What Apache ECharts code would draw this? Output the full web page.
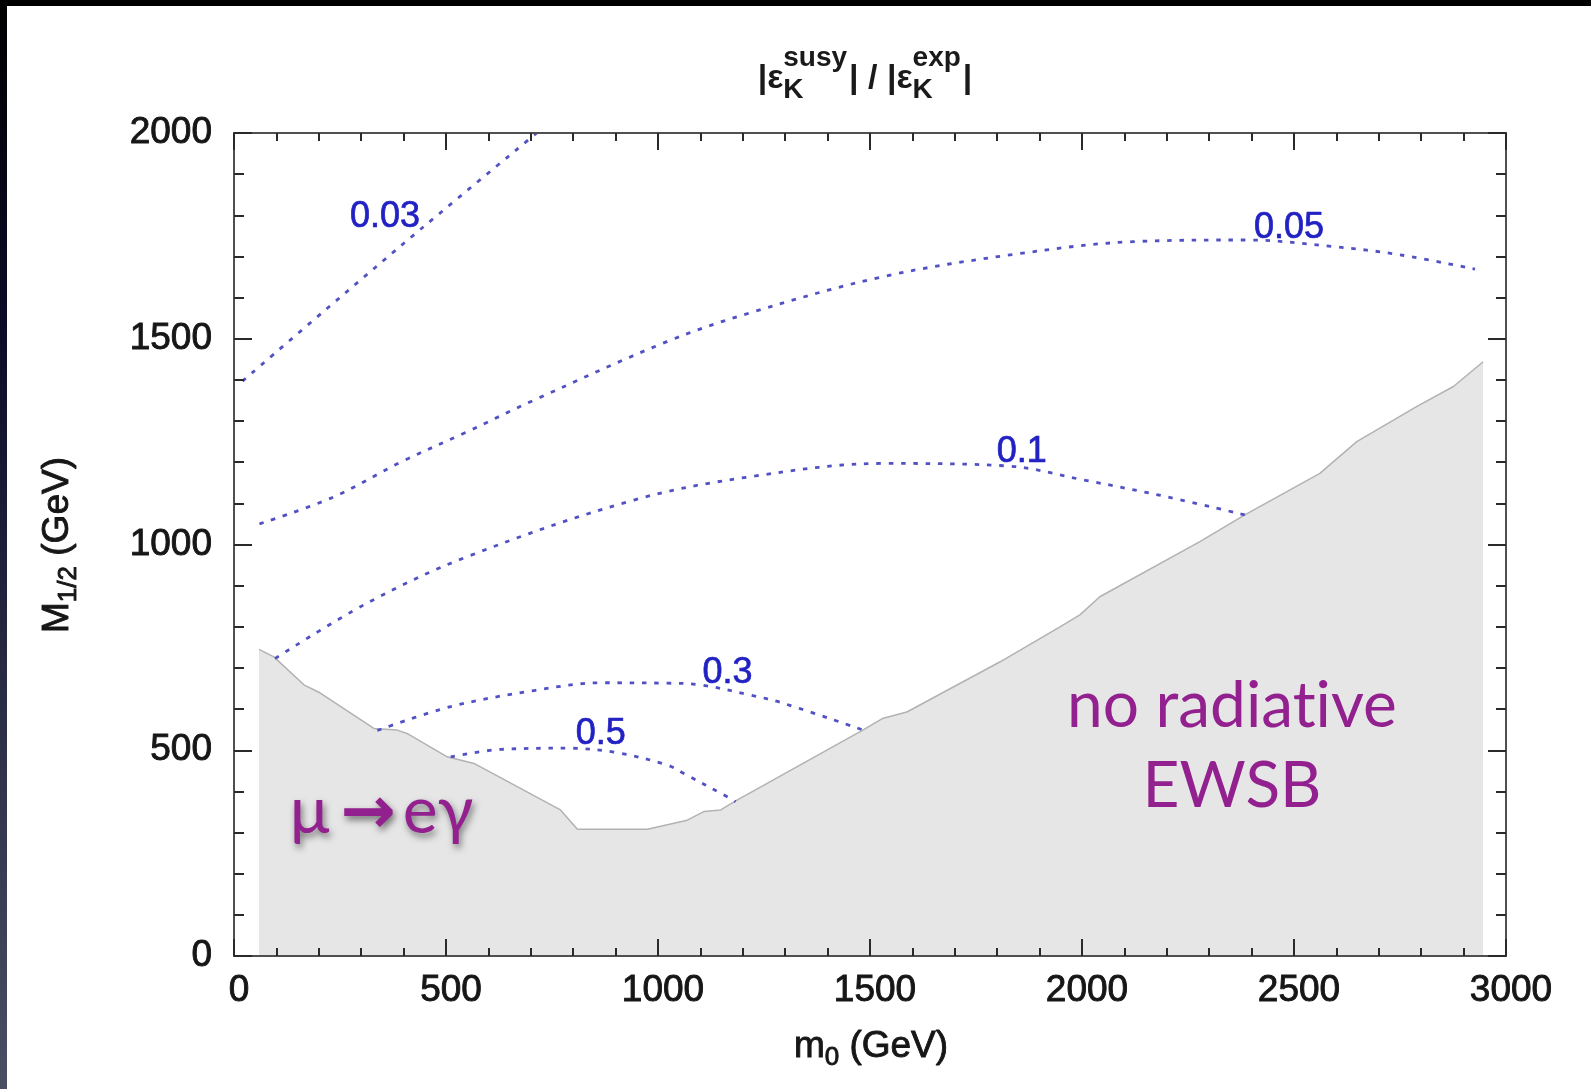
<!DOCTYPE html>
<html>
<head>
<meta charset="utf-8">
<title>|εK susy| / |εK exp| in the (m0, M1/2) plane</title>
<script src="https://cdn.jsdelivr.net/npm/echarts@6.0.0/dist/echarts.min.js"></script>
<style>
  html, body { margin: 0; padding: 0; background: #ffffff; }
  #chart { width: 1591px; height: 1089px; }
</style>
</head>
<body>
<div id="chart"></div>
<script>
// Axis ticks (GeV)
const m0Ticks = [0, 500, 1000, 1500, 2000, 2500, 3000];
const m12Ticks = [0, 500, 1000, 1500, 2000];

// Edge of the excluded region, [m0, M1/2] in GeV
const excludedEdge = [
  [59, 745], [94, 727], [165, 659], [200, 641], [330, 553], [385, 549], [410, 540],
  [503, 484], [566, 468], [770, 355], [810, 308], [975, 308], [1069, 330], [1108, 351],
  [1148, 355], [1180, 375], [1483, 549], [1531, 578], [1587, 593], [1807, 715],
  [1948, 800], [1995, 829], [2042, 873], [2278, 1007], [2384, 1072], [2561, 1173],
  [2648, 1250], [2789, 1335], [2876, 1384], [2946, 1444]
];

// Contours of |eps_K^susy| / |eps_K^exp|
const contour003 = [[20, 1397], [220, 1574], [440, 1766], [714, 2000]];
const contour005 = [
  [60, 1050], [236, 1116], [393, 1200], [550, 1274], [708, 1351], [1021, 1493],
  [1217, 1563], [1531, 1651], [1846, 1706], [2121, 1736], [2388, 1740], [2593, 1724],
  [2750, 1704], [2927, 1669]
];
const contour01 = [
  [97, 723], [313, 857], [549, 970], [943, 1108], [1219, 1165], [1531, 1197],
  [1822, 1191], [2003, 1157], [2200, 1116], [2384, 1072]
];
const contour03 = [
  [338, 548], [511, 606], [708, 645], [865, 664], [1022, 663], [1099, 659],
  [1219, 634], [1296, 614], [1484, 549]
];
const contour05 = [
  [511, 484], [629, 502], [786, 505], [904, 494], [1022, 464], [1060, 444],
  [1163, 387], [1183, 375]
];

// Contour level labels and where they sit
const contourLevels = ['0.03', '0.05', '0.1', '0.3', '0.5'];
const levelLabelM0 = [356, 2488, 1858, 1164, 865];
const levelLabelM12 = [1806, 1779, 1235, 697, 549];

const SANS = '"Liberation Sans", Arial, Helvetica, sans-serif';
const HUMANIST = 'Lato, "Open Sans", "DejaVu Sans", sans-serif';
const ARROW_FONT = '"DejaVu Sans", sans-serif';
const INK = '#161616';
const PURPLE = '#93208f';
const CONTOUR_DOT = '#5151c4';
const CONTOUR_TEXT = '#2222c4';

const measureCtx = document.createElement('canvas').getContext('2d');
function fontString(weight, size, family) { return weight + ' ' + size + 'px ' + family; }
function textWidth(text, font) { measureCtx.font = font; return measureCtx.measureText(text).width; }
// distance from the canvas 'middle' line down to the alphabetic baseline
function middleToBaseline(font, size) {
  measureCtx.font = font;
  measureCtx.textBaseline = 'alphabetic';
  const a = measureCtx.measureText('Hg').fontBoundingBoxAscent;
  measureCtx.textBaseline = 'middle';
  const m = measureCtx.measureText('Hg').fontBoundingBoxAscent;
  measureCtx.textBaseline = 'alphabetic';
  if (typeof a !== 'number' || typeof m !== 'number' || isNaN(a - m)) return 0.35 * size;
  return a - m;
}

// Lays out a run of text pieces (with sub/superscripts) centred on anchorX, on a baseline
function composeText(pieces, family, fill, anchorX, baselineY, rotation, extra) {
  let cursor = 0, lastStart = 0;
  const children = [];
  pieces.forEach(function (p) {
    const weight = p.weight || 'normal';
    const fam = p.family || family;
    const font = fontString(weight, p.size, fam);
    const w = textWidth(p.text, font);
    const start = p.stack ? lastStart : cursor + (p.gap || 0);
    cursor = Math.max(cursor, start + w);
    lastStart = start;
    children.push({
      type: 'text',
      z: 20,
      silent: true,
      x: start,
      y: -(p.rise || 0) - middleToBaseline(font, p.size),
      style: Object.assign({
        text: p.text,
        fontSize: p.size,
        fontFamily: fam,
        fontWeight: weight,
        fill: fill,
        align: 'left', textAlign: 'left',
        verticalAlign: 'middle', textVerticalAlign: 'middle'
      }, extra || {})
    });
  });
  children.forEach(function (c) { c.x -= cursor / 2; });
  return { type: 'group', x: anchorX, y: baselineY, rotation: rotation || 0, silent: true, z: 20, children: children };
}

const chart = echarts.init(document.getElementById('chart'), null, { renderer: 'canvas' });

function valueAxis(position, ticks, showLabels, isX) {
  return {
    type: 'value',
    position: position,
    min: ticks[0],
    max: ticks[ticks.length - 1],
    interval: ticks[1] - ticks[0],
    z: 6,
    axisLine: { show: true, onZero: false, lineStyle: { color: '#505050', width: 2 } },
    axisTick: { show: true, inside: true, length: isX ? 17 : 18, lineStyle: { color: '#2a2a2a', width: 2 } },
    minorTick: { show: true, splitNumber: 5, length: isX ? 8 : 10, lineStyle: { color: '#2a2a2a', width: 2 } },
    splitLine: { show: false },
    minorSplitLine: { show: false },
    axisLabel: {
      show: showLabels,
      formatter: function (v) { return String(v); },
      fontFamily: SANS,
      fontSize: 37,
      color: INK,
      textBorderColor: INK,
      textBorderWidth: 0.9,
      padding: isX ? [0, 0, 0, 10] : 0,
      margin: isX ? 16 : 22
    }
  };
}

function contourSeries(data) {
  return {
    type: 'line',
    data: data,
    smooth: 0.35,
    symbol: 'none',
    silent: true,
    z: 3,
    lineStyle: { color: CONTOUR_DOT, width: 2.8, type: [4.5, 7.8], cap: 'butt' }
  };
}

const inkStroke = { stroke: INK, lineWidth: 0.9 };

const titleGroup = composeText([
  { text: '|ε', size: 34, weight: 'bold' },
  { text: 'K', size: 28, weight: 'bold', rise: -10 },
  { text: 'susy', size: 28, weight: 'bold', rise: 22, stack: true },
  { text: '| / |ε', size: 34, weight: 'bold', gap: 2 },
  { text: 'K', size: 28, weight: 'bold', rise: -10 },
  { text: 'exp', size: 28, weight: 'bold', rise: 22, stack: true },
  { text: '|', size: 34, weight: 'bold', gap: 2 }
], SANS, '#1a1a1a', 865, 88, 0);

const xNameGroup = composeText([
  { text: 'm', size: 37 },
  { text: '0', size: 26, rise: -8 },
  { text: ' (GeV)', size: 37 }
], SANS, INK, 871, 1057, 0, inkStroke);

const yNameGroup = composeText([
  { text: 'M', size: 37 },
  { text: '1/2', size: 26, rise: -8 },
  { text: ' (GeV)', size: 37 }
], SANS, INK, 68, 545, Math.PI / 2, inkStroke);

const muGroup = composeText([
  { text: 'µ', size: 66 },
  { text: '→', size: 66, weight: 'bold', family: ARROW_FONT, gap: 9 },
  { text: 'eγ', size: 66, gap: 7 }
], HUMANIST, PURPLE, 381, 833, 0, {
  textShadowColor: 'rgba(0,0,0,0.5)', textShadowBlur: 7, textShadowOffsetX: 2, textShadowOffsetY: 4
});
// ZWNJ keeps "t" and "i" from fusing into a ligature
const ewsbLine1 = composeText([{ text: 'no radiat\u200Cive', size: 64 }], HUMANIST, PURPLE, 1232, 727, 0);
const ewsbLine2 = composeText([{ text: 'EWSB', size: 64 }], HUMANIST, PURPLE, 1232, 807, 0);

const option = {
  animation: false,
  backgroundColor: '#ffffff',
  grid: { left: 234, right: 85, top: 133, bottom: 133, containLabel: false, outerBoundsMode: 'none' },
  xAxis: [valueAxis('bottom', m0Ticks, true, true), valueAxis('top', m0Ticks, false, true)],
  yAxis: [valueAxis('left', m12Ticks, true, false), valueAxis('right', m12Ticks, false, false)],
  series: [
    {
      type: 'line',
      data: excludedEdge,
      symbol: 'none',
      silent: true,
      z: 1,
      lineStyle: { color: '#b2b2b2', width: 1.5 },
      areaStyle: { color: '#e6e6e6', opacity: 1 }
    },
    contourSeries(contour003),
    contourSeries(contour005),
    contourSeries(contour01),
    contourSeries(contour03),
    contourSeries(contour05),
    {
      type: 'scatter',
      silent: true,
      z: 4,
      symbol: 'circle',
      symbolSize: 1,
      itemStyle: { color: 'rgba(0,0,0,0)' },
      data: contourLevels.map(function (name, i) {
        return { name: name, value: [levelLabelM0[i], levelLabelM12[i]] };
      }),
      label: {
        show: true,
        position: 'inside',
        offset: [0, 4],
        formatter: '{b}',
        fontFamily: SANS,
        fontSize: 36,
        color: CONTOUR_TEXT,
        opacity: 1,
        textBorderColor: CONTOUR_TEXT,
        textBorderWidth: 0.7
      }
    }
  ],
  graphic: [
    {
      type: 'rect', silent: true, z: 30,
      shape: { x: 0, y: 0, width: 7, height: 1089 },
      style: {
        fill: new echarts.graphic.LinearGradient(0, 0, 0, 1, [
          { offset: 0, color: '#000000' },
          { offset: 0.3, color: '#0b0b28' },
          { offset: 1, color: '#4a4f64' }
        ])
      }
    },
    { type: 'rect', silent: true, z: 31, shape: { x: 0, y: 0, width: 1591, height: 6 }, style: { fill: '#000000' } },
    titleGroup,
    xNameGroup,
    yNameGroup,
    muGroup,
    ewsbLine1,
    ewsbLine2
  ]
};

chart.setOption(option);
</script>
</body>
</html>
